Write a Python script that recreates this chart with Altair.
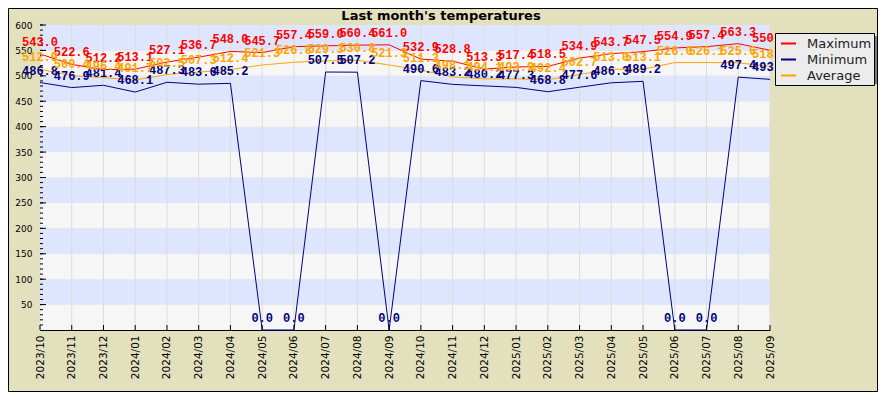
import altair as alt
import pandas as pd

months = ["2023/10", "2023/11", "2023/12", "2024/01", "2024/02", "2024/03",
          "2024/04", "2024/05", "2024/06", "2024/07", "2024/08", "2024/09",
          "2024/10", "2024/11", "2024/12", "2025/01", "2025/02", "2025/03",
          "2025/04", "2025/05", "2025/06", "2025/07", "2025/08", "2025/09"]
maximum = [543.0, 522.6, 512.2, 513.1, 527.1, 536.7, 548.0, 545.7, 557.4, 559.0,
           560.4, 561.0, 532.9, 528.8, 513.3, 517.4, 518.5, 534.9, 543.7, 547.5,
           554.9, 557.4, 563.3, 550.2]
minimum = [486.8, 476.9, 481.4, 468.1, 487.3, 483.6, 485.2, 0.0, 0.0, 507.5,
           507.2, 0.0, 490.6, 483.2, 480.2, 477.3, 468.8, 477.6, 486.3, 489.2,
           0.0, 0.0, 497.4, 493.1]
average = [512.9, 500.4, 496.4, 491.7, 502.5, 507.3, 512.4, 521.3, 526.8, 529.3,
           530.8, 521.3, 511.3, 498.1, 494.1, 493.9, 492.4, 502.7, 513.0, 513.1,
           526.0, 526.1, 525.6, 518.4]
series_names = ["Maximum", "Minimum", "Average"]
series_colors = ["#ff0000", "#000080", "#ffa500"]
title_text = "Last month's temperatures"
y_major = list(range(50, 601, 50))
y_minor = list(range(10, 601, 10))
band_lows = list(range(0, 600, 50))
band_colors = ["#f6f6f6", "#dde5ff"]

W, H = 730, 305

rows = []
for name, color, vals in zip(series_names, series_colors, [maximum, minimum, average]):
    for m, v in zip(months, vals):
        rows.append({"month": m, "value": v, "series": name, "color": color})
df = pd.DataFrame(rows)

bands = pd.DataFrame({"lo": band_lows,
                      "hi": [b + 50 for b in band_lows],
                      "fill": [band_colors[(b // 50) % 2] for b in band_lows]})
mdf = pd.DataFrame({"month": months})
major_df = pd.DataFrame({"v": y_major})
minor_df = pd.DataFrame({"v": y_minor})
one = pd.DataFrame({"t": [title_text]})

xscale = alt.Scale(type="point", padding=0, domain=months)
yscale = alt.Scale(domain=[0, 600], nice=False, zero=True)
xaxis = alt.Axis(title=None, labelAngle=270, tickSize=0, labelPadding=5, grid=False,
                 labelFont="DejaVu Sans", labelFontSize=10.5, labelColor="#000",
                 domainColor="#000", labelOverlap=False)
yaxis = alt.Axis(title=None, values=y_major, tickSize=0, labelPadding=8, grid=False,
                 labelFont="DejaVu Sans", labelFontSize=9, labelColor="#000",
                 domainColor="#000")

band_layer = alt.Chart(bands).mark_rect().encode(
    x=alt.value(0), x2=alt.value(W),
    y=alt.Y("lo:Q", scale=yscale, axis=yaxis), y2="hi:Q",
    color=alt.Color("fill:N", scale=None),
)

vgrid = alt.Chart(mdf).mark_rule(color="#dcdcdc", strokeWidth=1).encode(
    x=alt.X("month:O", scale=xscale, axis=xaxis, sort=months),
    y=alt.value(0), y2=alt.value(H),
)

lines = alt.Chart(df).mark_line(strokeWidth=1, clip=False).encode(
    x=alt.X("month:O", scale=xscale, axis=xaxis, sort=months),
    y=alt.Y("value:Q", scale=yscale, axis=yaxis),
    color=alt.Color("series:N",
                    scale=alt.Scale(domain=series_names, range=series_colors),
                    legend=alt.Legend(title=None, orient="none", legendX=735, legendY=8,
                                      symbolType="stroke", symbolStrokeWidth=2,
                                      symbolSize=225, symbolOffset=3,
                                      labelFont="DejaVu Sans",
                                      labelFontSize=13, labelColor="#222",
                                      labelOffset=10, rowPadding=0, padding=2,
                                      fillColor="#ececec", strokeColor="#000")),
    detail="series:N",
)

xticks = alt.Chart(mdf).mark_rule(color="#000").encode(
    x=alt.X("month:O", scale=xscale, axis=xaxis, sort=months),
    y=alt.value(H - 5), y2=alt.value(H),
)
ymaj = alt.Chart(major_df).mark_rule(color="#000").encode(
    y=alt.Y("v:Q", scale=yscale, axis=yaxis),
    x=alt.value(0), x2=alt.value(6),
)
ymin = alt.Chart(minor_df).mark_rule(color="#000").encode(
    y=alt.Y("v:Q", scale=yscale, axis=yaxis),
    x=alt.value(0), x2=alt.value(3),
)

labels = alt.Chart(df).mark_text(font="Liberation Mono", fontWeight="bold", fontSize=12,
                                 baseline="bottom", dy=-5).encode(
    x=alt.X("month:O", scale=xscale, axis=xaxis, sort=months),
    y=alt.Y("value:Q", scale=yscale, axis=yaxis),
    text=alt.Text("value:Q", format=".1f"),
    color=alt.Color("color:N", scale=None),
)

shadow = alt.Chart(one).mark_rect(color="#7a7a7a").encode(
    x=alt.value(738), x2=alt.value(840), y=alt.value(11), y2=alt.value(59),
)
border = alt.Chart(one).mark_rect(fill=None, stroke="#000", strokeWidth=1).encode(
    x=alt.value(-31.5), x2=alt.value(837.5), y=alt.value(-16.5), y2=alt.value(366.5),
)
title = alt.Chart(one).mark_text(font="DejaVu Sans", fontSize=13, fontWeight="bold",
                                 color="#000", baseline="alphabetic", align="center").encode(
    x=alt.value(401), y=alt.value(-5), text="t:N",
)

chart = alt.layer(band_layer, vgrid, lines, xticks, ymaj, ymin, labels, shadow, border,
                  title).properties(
    width=W, height=H,
    background="#e3e0bd",
    padding={"left": 32, "top": 17, "right": 108, "bottom": 62},
    autosize=alt.AutoSizeParams(type="none"),
).configure_view(stroke=None)

chart.save("out.html", embed_options={"renderer": "svg", "actions": False})
